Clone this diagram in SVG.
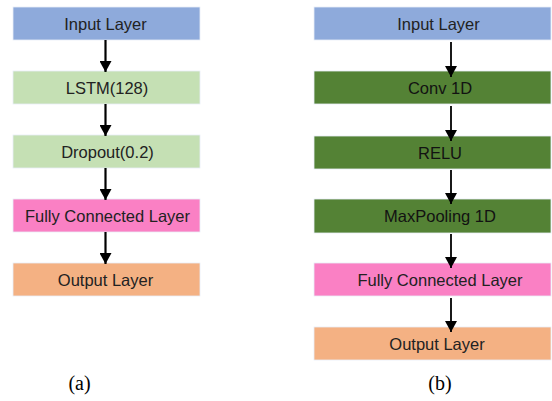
<svg xmlns="http://www.w3.org/2000/svg" width="552" height="401" viewBox="0 0 552 401">
  <defs>
    <marker id="head" viewBox="0 0 11 12" refX="11" refY="6" markerWidth="11" markerHeight="12" markerUnits="userSpaceOnUse" orient="auto">
      <path d="M0,0 L11,6 L0,12 Z" fill="#000"/>
    </marker>
    <style>
      .box { stroke: #e8eef8; stroke-width: 0.8; }
      .blue { fill: #8eaadb; }
      .lgreen { fill: #c5e0b4; }
      .dgreen { fill: #548235; }
      .pink { fill: #fa80c4; }
      .orange { fill: #f4b183; }
      .lbl { font-family: "Liberation Sans", Arial, sans-serif; font-size: 16.5px; fill: #222222; text-anchor: middle; }
      .dark { fill: #121212; }
      .cap { font-family: "Liberation Serif", "Times New Roman", serif; font-size: 20px; fill: #000; text-anchor: middle; }
      .arrow { stroke: #000; stroke-width: 2.2; fill: none; marker-end: url(#head); }
      .thin { stroke-width: 1.8; }
    </style>
  </defs>

  <rect width="552" height="401" fill="#ffffff"/>

  <!-- (a) LSTM network -->
  <g id="a-input"><rect class="box blue" x="13" y="7" width="187" height="33"/><text class="lbl" x="105.5" y="29.5">Input Layer</text></g>
  <g id="a-lstm"><rect class="box lgreen" x="13" y="71" width="187" height="33"/><text class="lbl" x="107" y="93.5">LSTM(128)</text></g>
  <g id="a-dropout"><rect class="box lgreen" x="13" y="135" width="187" height="33"/><text class="lbl" x="107.5" y="157.5">Dropout(0.2)</text></g>
  <g id="a-fc"><rect class="box pink" x="13" y="199" width="187" height="33"/><text class="lbl" x="107.5" y="221.5">Fully Connected Layer</text></g>
  <g id="a-output"><rect class="box orange" x="13" y="263" width="187" height="33"/><text class="lbl" x="105.5" y="285.5">Output Layer</text></g>
  <text class="cap" x="79.5" y="390">(a)</text>

  <!-- (b) CNN network -->
  <g id="b-input"><rect class="box blue" x="314" y="7" width="237" height="33"/><text class="lbl" x="438.5" y="29.5">Input Layer</text></g>
  <g id="b-conv"><rect class="box dgreen" x="314" y="71" width="237" height="33"/><text class="lbl dark" x="440" y="93.5">Conv 1D</text></g>
  <g id="b-relu"><rect class="box dgreen" x="314" y="136" width="237" height="33"/><text class="lbl dark" x="440" y="158.5">RELU</text></g>
  <g id="b-pool"><rect class="box dgreen" x="314" y="199" width="237" height="34"/><text class="lbl dark" x="440" y="222">MaxPooling 1D</text></g>
  <g id="b-fc"><rect class="box pink" x="314" y="263" width="237" height="33"/><text class="lbl" x="440" y="285.5">Fully Connected Layer</text></g>
  <g id="b-output"><rect class="box orange" x="314" y="327" width="237" height="33"/><text class="lbl" x="437" y="349.5">Output Layer</text></g>
  <text class="cap" x="440" y="390">(b)</text>

  <!-- connectors -->
  <g id="connectors">
    <line class="arrow" x1="105.5" y1="40" x2="105.5" y2="72"/>
    <line class="arrow" x1="105.5" y1="104" x2="105.5" y2="136"/>
    <line class="arrow" x1="105.5" y1="168" x2="105.5" y2="200"/>
    <line class="arrow" x1="105.5" y1="232" x2="105.5" y2="264"/>
    <line class="arrow thin" x1="451" y1="42" x2="451" y2="77"/>
    <line class="arrow thin" x1="451" y1="106" x2="451" y2="141"/>
    <line class="arrow thin" x1="451" y1="170" x2="451" y2="204"/>
    <line class="arrow thin" x1="451" y1="234" x2="451" y2="268"/>
    <line class="arrow thin" x1="451" y1="298" x2="451" y2="332"/>
  </g>
</svg>
